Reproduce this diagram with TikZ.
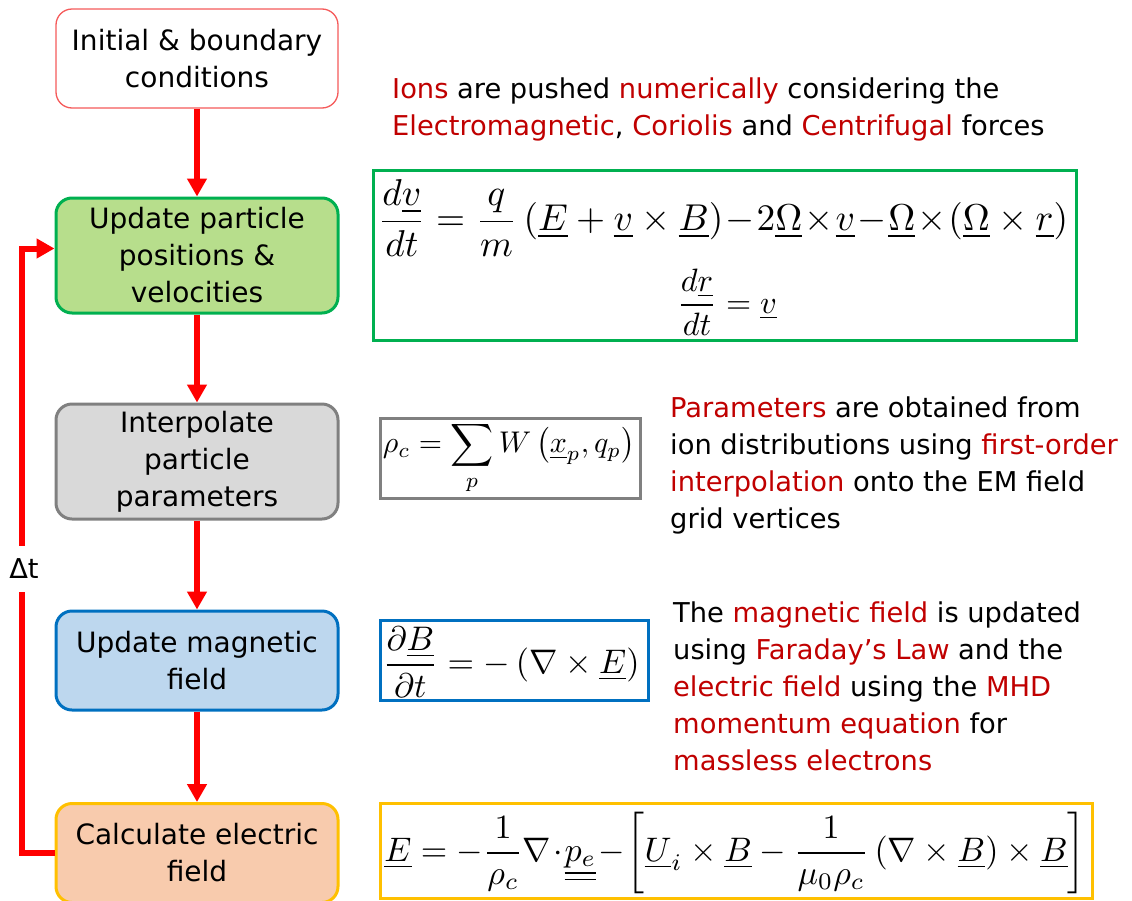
\documentclass[tikz,border=0pt]{standalone}
\usepackage{amsmath}
\usepackage{fontspec}
\setmainfont{DejaVu Sans}
\usetikzlibrary{arrows.meta}
\definecolor{dred}{RGB}{192,0,0}
\definecolor{gfill}{RGB}{183,222,140}
\definecolor{gline}{RGB}{0,176,80}
\definecolor{grfill}{RGB}{217,217,217}
\definecolor{grline}{RGB}{128,128,128}
\definecolor{bfill}{RGB}{189,215,238}
\definecolor{bline}{RGB}{0,112,192}
\definecolor{ofill}{RGB}{248,203,173}
\definecolor{oline}{RGB}{255,192,0}
\definecolor{rline}{RGB}{245,90,90}
\begin{document}
\begin{tikzpicture}[x=1pt,y=-1pt,
  flow/.style={rounded corners=16pt, align=center, minimum width=282pt, line width=3pt, inner sep=0pt, font=\fontsize{28}{37}\selectfont},
  arr/.style={draw=red, line width=6pt, -{Triangle[width=19pt,length=18pt]}},
  frame/.style={line width=3pt, inner sep=0pt},
  para/.style={anchor=west, align=left, inner sep=0pt, font=\fontsize{27.3}{37}\selectfont},
  hl/.style={text=dred}]
\useasboundingbox (0,0) rectangle (1132,900);
% flow boxes
\node[flow, draw=rline, line width=1.3pt, fill=white, minimum height=99pt] (b1) at (197,58.5) {Initial \& boundary\\conditions};
\node[flow, draw=gline, fill=gfill, minimum height=115pt] (b2) at (197,255.5) {Update particle\\positions \&\\velocities};
\node[flow, draw=grline, fill=grfill, minimum height=115pt] (b3) at (197,461.5) {Interpolate\\particle\\parameters};
\node[flow, draw=bline, fill=bfill, minimum height=99pt] (b4) at (197,660.5) {Update magnetic\\field};
\node[flow, draw=oline, fill=ofill, minimum height=99pt] (b5) at (197,853) {Calculate electric\\field};
% arrows
\draw[arr] (b1.south) -- (b2.north);
\draw[arr] (b2.south) -- (b3.north);
\draw[arr] (b3.south) -- (b4.north);
\draw[arr] (b4.south) -- (b5.north);
\coordinate (lp) at (22,853);
\draw[arr] (b5.west) -- (lp) |- ([yshift=7pt]b2.west);
\node[fill=white, inner sep=0pt, minimum width=46pt, minimum height=46pt, font=\fontsize{27.3}{34}\selectfont] (dt) at (24,569) {Δt};
% equation frames
\node[frame, draw=gline, minimum width=703pt, minimum height=170pt] (f1) at (724.5,255) {};
\node[frame, draw=grline, minimum width=260pt, minimum height=80pt] (f2) at (510,458) {};
\node[frame, draw=bline, minimum width=268pt, minimum height=80pt] (f3) at (514,660) {};
\node[frame, draw=oline, minimum width=712pt, minimum height=95pt] (f4) at (736,850.5) {};
% equations
\node[inner sep=0pt] (e1) at (723,218) {\resizebox{690pt}{!}{$\displaystyle \frac{d\underline{v}}{dt} = \frac{q}{m}\left(\underline{E} + \underline{v}\times\underline{B}\right)\!-\!2\underline{\Omega}\!\times\!\underline{v}\!-\!\underline{\Omega}\!\times\!\left(\underline{\Omega}\times\underline{r}\right)$}};
\node[inner sep=0pt] (e2) at (727,302) {\resizebox{100pt}{!}{$\displaystyle \frac{d\underline{r}}{dt} = \underline{v}$}};
\node[inner sep=0pt] (e3) at (509,458) {\resizebox{252pt}{!}{$\displaystyle \rho_c = \sum_p W\left(\underline{x}_p, q_p\right)$}};
\node[inner sep=0pt] (e4) at (511,662) {\resizebox{257pt}{!}{$\displaystyle \frac{\partial\underline{B}}{\partial t} = -\left(\nabla\times\underline{E}\right)$}};
\node[inner sep=0pt] (e5) at (735,853) {\resizebox{701pt}{!}{$\displaystyle \underline{E} = -\frac{1}{\rho_c}\nabla\!\cdot\!\underline{\underline{p_e}}\!-\!\left[\underline{U}_i\times\underline{B} - \frac{1}{\mu_0\rho_c}\left(\nabla\times\underline{B}\right)\times\underline{B}\right]$}};
% explanatory texts
\node[para] (t1) at (392,109) {{\color{dred}Ions} are pushed {\color{dred}numerically} considering the\\{\color{dred}Electromagnetic}, {\color{dred}Coriolis} and {\color{dred}Centrifugal} forces};
\node[para] (t2) at (670,465.5) {{\color{dred}Parameters} are obtained from\\ion distributions using {\color{dred}first-order}\\{\color{dred}interpolation} onto the EM field\\grid vertices};
\node[para] (t3) at (673,686) {The {\color{dred}magnetic field} is updated\\using {\color{dred}Faraday’s Law} and the\\{\color{dred}electric field} using the {\color{dred}MHD}\\{\color{dred}momentum equation} for\\{\color{dred}massless electrons}};
\end{tikzpicture}
\end{document}
